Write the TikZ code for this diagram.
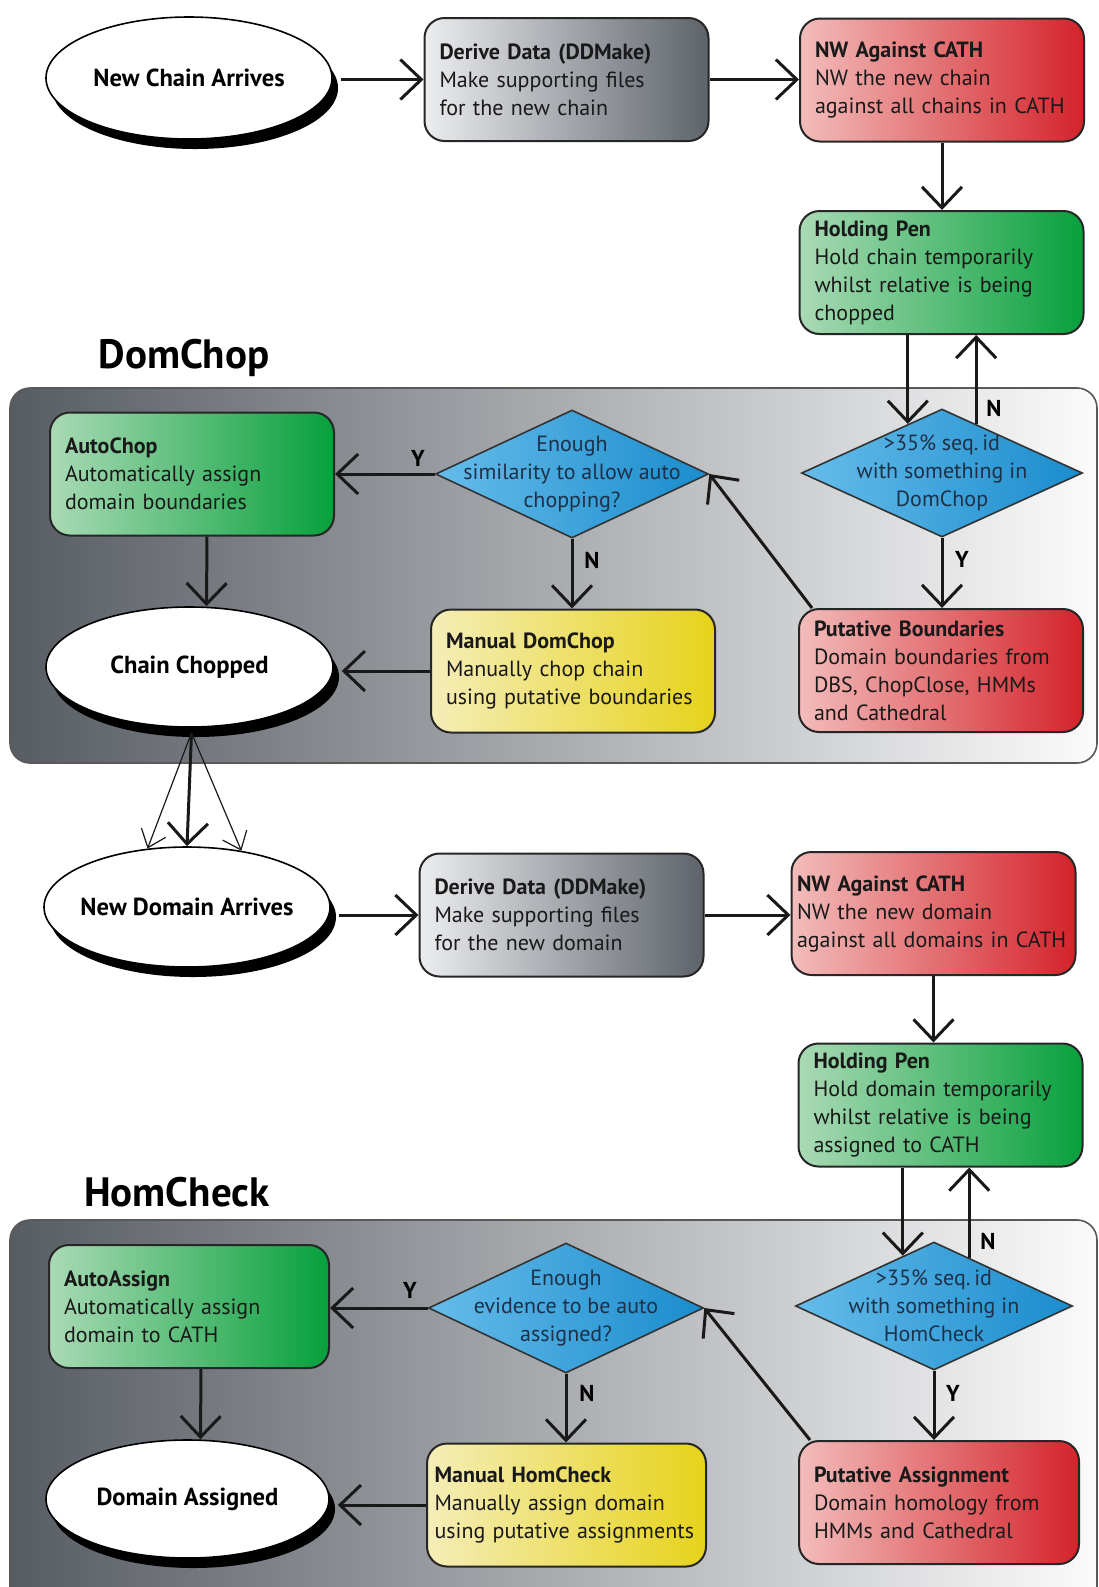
\documentclass[tikz,border=0pt]{standalone}
\usepackage{fontspec}
\setmainfont{PT Sans}
\usetikzlibrary{shapes.geometric,arrows.meta,shadows,calc}
\definecolor{gL}{HTML}{ECEDEF}\definecolor{gM}{HTML}{C9CBCF}\definecolor{gR}{HTML}{5E636B}
\definecolor{rL}{HTML}{F2BDBB}\definecolor{rM}{HTML}{E48784}\definecolor{rR}{HTML}{D4232B}
\definecolor{nL}{HTML}{AADAB5}\definecolor{nM}{HTML}{5CBF78}\definecolor{nR}{HTML}{07A03C}
\definecolor{yL}{HTML}{F5EDB8}\definecolor{yM}{HTML}{EEE073}\definecolor{yR}{HTML}{E6D31B}
\definecolor{bL}{HTML}{66BCEA}\definecolor{bM}{HTML}{3AA5DF}\definecolor{bR}{HTML}{1A8CCD}
\definecolor{pL}{HTML}{575C63}\definecolor{pR}{HTML}{FBFBFB}
\definecolor{dtext}{HTML}{1E3148}
\newcommand\myboxfont{\fontsize{11}{14}\selectfont}
\begin{document}
\begin{tikzpicture}[x=0.5pt,y=-0.5pt]
\tikzset{
  panel/.style={rounded corners=10pt, draw=black!65, line width=0.8pt, left color=pL, right color=pR},
  box/.style={rounded corners=10pt, draw=black!85, line width=1pt, minimum width=142pt,
     minimum height=61.5pt, inner xsep=7.5pt, inner ysep=0pt, text width=127pt, align=left,
     font=\myboxfont, text=black!90},
  graybox/.style={box, left color=gL, middle color=gM, right color=gR},
  redbox/.style={box, left color=rL, middle color=rM, right color=rR},
  greenbox/.style={box, left color=nL, middle color=nM, right color=nR},
  yellowbox/.style={box, left color=yL, middle color=yM, right color=yR},
  dec/.style={diamond, draw=black!80, line width=0.8pt, inner sep=0pt, minimum width=138pt,
     minimum height=64pt, left color=bL, middle color=bM, right color=bR},
  dectext/.style={align=center, font=\myboxfont, text=dtext},
  oval/.style={ellipse, draw=black, line width=0.8pt, fill=white, inner sep=-12pt,
     minimum width=143pt, minimum height=61pt, font=\fontsize{12.3}{14}\bfseries\selectfont,
     drop shadow={shadow xshift=3pt, shadow yshift=-5pt, opacity=1, fill=black}},
  sectitle/.style={font=\fontsize{20.5}{22}\bfseries\selectfont},
  lab/.style={font=\fontsize{11.5}{13}\bfseries\selectfont},
  arr/.style={line width=1.5pt, draw=black!90, -{Straight Barb[length=10.5pt,width=20pt]}},
  thinarr/.style={line width=0.6pt, draw=black!90, -{Straight Barb[length=8pt,width=13pt]}},
}
\path[use as bounding box] (0,0) rectangle (1099,1587);
\clip (0,0) rectangle (1099,1587);
\fill[white] (0,0) rectangle (1099,1587);

% panels
\draw[panel] (10,388) rectangle (1097,763);
\draw[panel] (10,1220) rectangle (1097,1640);
\node[sectitle] (tDomChop) at (184,358) {DomChop};
\node[sectitle] (tHomCheck) at (177,1192) {HomCheck};

% ---------- top part ----------
\node[oval] (nca) at (189,78) {New Chain Arrives};
\node[graybox] (derive1) at (566.5,79.5) {\textbf{Derive Data (DDMake)}\\Make supporting files\\for the new chain};
\node[redbox] (nw1) at (942,80) {\textbf{NW Against CATH}\\NW the new chain\\against all chains in CATH};
\node[greenbox] (hold1) at (941.5,272.5) {\textbf{Holding Pen}\\Hold chain temporarily\\whilst relative is being\\chopped};

\node[greenbox] (autochop) at (192,474) {\textbf{AutoChop}\\Automatically assign\\domain boundaries};
\node[dec, minimum width=136.5pt] (d1) at (572,474) {};
\node[dectext] (d1t) at (d1) {Enough\\similarity to allow auto\\chopping?};
\node[dec, minimum width=140.5pt] (d2) at (942,473) {};
\node[dectext] (d2t) at (d2) {>35\% seq.\,id\\with something in\\DomChop};
\node[oval, minimum width=143.5pt, minimum height=60pt] (chop) at (189.5,667) {Chain Chopped};
\node[yellowbox] (manchop) at (573,671) {\textbf{Manual DomChop}\\Manually chop chain\\using putative boundaries};
\node[redbox] (putb) at (941,670.5) {\textbf{Putative Boundaries}\\Domain boundaries from\\DBS, ChopClose, HMMs\\and Cathedral};

% ---------- bottom part ----------
\node[oval, minimum width=143pt, minimum height=60pt] (nda) at (187,907) {New Domain Arrives};
\node[graybox] (derive2) at (561.5,915) {\textbf{Derive Data (DDMake)}\\Make supporting files\\for the new domain};
\node[redbox, inner xsep=2.5pt, text width=136.5pt] (nw2) at (933.5,913.5) {\textbf{NW Against CATH}\\NW the new domain\\against all domains in CATH};
\node[greenbox] (hold2) at (940.5,1105) {\textbf{Holding Pen}\\Hold domain temporarily\\whilst relative is being\\assigned to CATH};

\node[greenbox, minimum width=140pt, text width=125pt] (autoassign) at (189,1306.5) {\textbf{AutoAssign}\\Automatically assign\\domain to CATH};
\node[dec, minimum width=137.5pt, minimum height=65pt] (d3) at (566,1308) {};
\node[dectext] (d3t) at (d3) {Enough\\evidence to be auto\\assigned?};
\node[dec, minimum width=138.5pt] (d4) at (934,1306) {};
\node[dectext] (d4t) at (d4) {>35\% seq.\,id\\with something in\\HomCheck};
\node[oval, minimum width=141.5pt, minimum height=59pt] (dass) at (187.5,1499) {Domain Assigned};
\node[yellowbox, minimum width=139.5pt, text width=132pt, inner xsep=3.75pt] (manhom) at (566.5,1505) {\textbf{Manual HomCheck}\\Manually assign domain\\using putative assignments};
\node[redbox, minimum width=140pt, text width=125pt] (putass) at (939,1502.5) {\textbf{Putative Assignment}\\Domain homology from\\HMMs and Cathedral};

% ---------- connectors: top ----------
\draw[arr] ([xshift=4pt]derive1.west -| nca.east) -- (derive1.west);
\draw[arr] (derive1.east) -- (derive1.east -| nw1.west);
\draw[arr] (nw1.south) -- (nw1.south |- hold1.north);
\coordinate (d2in) at ($(d2.north)!0.242!(d2.west)$);
\coordinate (d2out) at ($(d2.north)!0.242!(d2.east)$);
\draw[arr] (d2in |- hold1.south) -- (d2in);
\draw[arr] (d2out) -- (d2out |- hold1.south);
\node[lab] (n1) at (994,408) {N};
\draw[arr] (d2.south) -- (d2.south |- putb.north);
\node[lab] (y1) at (962,559) {Y};
\draw[arr] ($(putb.north west)+(14,0)$) -- (d1.east);
\draw[arr] (d1.west) -- (d1.west -| autochop.east);
\node[lab] (y2) at (418,458) {Y};
\draw[arr] (d1.south) -- (d1.south |- manchop.north);
\node[lab] (n2) at (592,560) {N};
\draw[arr] ($(autochop.south)+(15,0)$) -- ($(chop.north)+(17,0)$);
\draw[arr] (manchop.west) -- ([xshift=4pt]manchop.west -| chop.east);

% fan from Chain Chopped to New Domain Arrives
\coordinate (fanstart) at ($(chop.south)+(2,5)$);
\draw[arr] (fanstart) -- (nda.north);
\draw[thinarr] (fanstart) -- (nda.124);
\draw[thinarr] (fanstart) -- (nda.46);

% ---------- connectors: bottom ----------
\draw[arr] ([xshift=4pt]derive2.west -| nda.east) -- (derive2.west);
\draw[arr] (derive2.east) -- (derive2.east -| nw2.west);
\draw[arr] (nw2.south) -- (nw2.south |- hold2.north);
\coordinate (d4in) at ($(d4.north)!0.224!(d4.west)$);
\coordinate (d4out) at ($(d4.north)!0.253!(d4.east)$);
\draw[arr] (d4in |- hold2.south) -- (d4in);
\draw[arr] (d4out) -- (d4out |- hold2.south);
\node[lab] (n3) at (988,1241) {N};
\draw[arr] (d4.south) -- (d4.south |- putass.north);
\node[lab] (y3) at (953,1393) {Y};
\draw[arr] ($(putass.north west)+(12,0)$) -- (d3.east);
\draw[arr] (d3.west) -- (d3.west -| autoassign.east);
\node[lab] (y4) at (410,1290) {Y};
\draw[arr] (d3.south) -- (d3.south |- manhom.north);
\node[lab] (n4) at (587,1393) {N};
\draw[arr] ($(autoassign.south)+(12,0)$) -- ($(dass.north)+(13,0)$);
\draw[arr] (manhom.west) -- ([xshift=4pt]manhom.west -| dass.east);
\end{tikzpicture}
\end{document}
